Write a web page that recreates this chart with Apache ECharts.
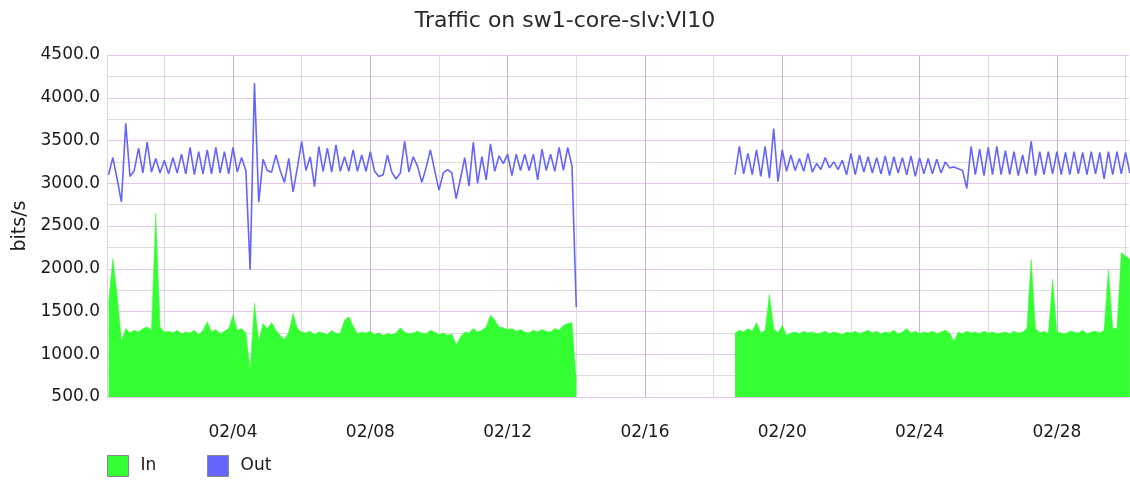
<!DOCTYPE html>
<html>
<head>
<meta charset="utf-8">
<script src="https://cdn.jsdelivr.net/npm/echarts@6/dist/echarts.min.js"></script>
<style>
html, body { margin: 0; padding: 0; background: #fff; }
#chart { width: 1130px; height: 480px; }
</style>
</head>
<body>
<div id="chart"></div>
<script>
// x unit = day of February (01/31 = 0, 03/01 = 29), samples every 3 hours
var startDay = 0.375;
var stepDay = 0.125;
var gapPoints = 36;

var majorDays = [4, 8, 12, 16, 20, 24, 28];
var minorDays = [2, 6, 10, 14, 18, 22, 26, 30];

// 01/31 09:00 -> 02/14 ~00:00
var inSeg1 = [
	1600, 2120, 1700, 1150, 1300, 1250, 1280, 1260, 1300, 1320,
	1280, 2650, 1320, 1260, 1270, 1250, 1280, 1240, 1260, 1250,
	1280, 1230, 1280, 1380, 1260, 1290, 1240, 1270, 1300, 1460,
	1280, 1300, 1250, 820, 1600, 1150, 1360, 1300, 1370, 1280,
	1220, 1170, 1260, 1480, 1300, 1260, 1250, 1270, 1230, 1260,
	1250, 1230, 1280, 1240, 1250, 1400, 1440, 1330, 1240, 1260,
	1250, 1270, 1230, 1250, 1220, 1240, 1230, 1250, 1310, 1260,
	1240, 1250, 1270, 1250, 1240, 1280, 1260, 1230, 1250, 1220,
	1240, 1110, 1200, 1260, 1250, 1300, 1260, 1280, 1320, 1460,
	1400, 1320, 1310, 1290, 1300, 1270, 1290, 1260, 1250, 1280,
	1260, 1290, 1270, 1260, 1300, 1280, 1340, 1360, 1370, 680
];
var outSeg1 = [
	3100, 3300, 3050, 2780, 3700, 3080, 3150, 3410, 3120, 3480,
	3130, 3290, 3120, 3270, 3110, 3300, 3120, 3340, 3110, 3420,
	3100, 3370, 3110, 3390, 3110, 3420, 3120, 3370, 3110, 3420,
	3130, 3300, 3150, 1990, 4170, 2780, 3280, 3150, 3130, 3330,
	3150, 3010, 3290, 2900, 3180, 3490, 3150, 3310, 2960, 3430,
	3140, 3410, 3130, 3450, 3140, 3310, 3140, 3390, 3140, 3330,
	3140, 3370, 3140, 3080, 3100, 3330, 3130, 3050, 3120, 3490,
	3130, 3310, 3200, 3010, 3180, 3390, 3150, 2920, 3120, 3160,
	3120, 2820, 3050, 3300, 2970, 3480, 3000, 3310, 3040, 3460,
	3140, 3320, 3230, 3340, 3090, 3340, 3150, 3340, 3150, 3340,
	3040, 3400, 3150, 3340, 3140, 3420, 3150, 3420, 3200, 1550
];

// 02/18 15:00 -> end
var inSeg2 = [
	1250, 1280, 1260, 1300, 1270, 1370, 1250, 1280, 1700, 1300,
	1250, 1340, 1220, 1250, 1260, 1240, 1270, 1250, 1260, 1240,
	1250, 1270, 1240, 1260, 1250, 1230, 1260, 1250, 1270, 1240,
	1260, 1280, 1250,
	1270, 1240, 1260, 1250, 1280, 1240, 1260, 1300, 1250, 1270,
	1240, 1260, 1250, 1270, 1240, 1260, 1280, 1250, 1150, 1260,
	1240, 1270, 1250, 1260, 1240, 1270, 1250, 1260, 1240, 1250,
	1260, 1240, 1270, 1250, 1260, 1300, 2110, 1300, 1250, 1270,
	1240, 1880, 1260, 1250, 1240, 1270, 1260, 1250, 1280, 1240,
	1260, 1270, 1250, 1280, 1990, 1300, 1300, 2190, 2150, 2110
];
var outSeg2 = [
	3100, 3430, 3110, 3350, 3100, 3390, 3080, 3430, 3060, 3640,
	3020, 3390, 3140, 3330, 3150, 3290, 3140, 3350, 3130, 3230,
	3160, 3300, 3180, 3250, 3160, 3270, 3100, 3350, 3100, 3330,
	3130, 3310, 3120,
	3300, 3110, 3320, 3090, 3310, 3120, 3300, 3100, 3320, 3080,
	3300, 3110, 3290, 3110, 3280, 3120, 3250, 3180, 3190, 3170,
	3150, 2940, 3430, 3100, 3400, 3090, 3420, 3100, 3430, 3100,
	3380, 3100, 3370, 3090, 3330, 3110, 3490, 3090, 3370, 3100,
	3370, 3110, 3370, 3100, 3360, 3100, 3370, 3110, 3360, 3100,
	3370, 3110, 3360, 3050, 3370, 3100, 3370, 3110, 3360, 3120
];

function build(seg1, seg2) {
	var pts = [];
	for (var i = 0; i < seg1.length; i++) {
		pts.push([startDay + i * stepDay, seg1[i]]);
	}
	pts.push([startDay + seg1.length * stepDay, null]);
	var off = seg1.length + gapPoints;
	for (var j = 0; j < seg2.length; j++) {
		pts.push([startDay + (off + j) * stepDay, seg2[j]]);
	}
	return pts;
}

var font = 'DejaVu Sans';
var chart = echarts.init(document.getElementById('chart'));

var legendText = { fontFamily: font, fontSize: 17, color: '#1a1a1a', padding: [0, 0, 0, 7] };

var option = {
	animation: false,
	title: {
		text: 'Traffic on sw1-core-slv:Vl10',
		left: 'center',
		top: 5,
		textStyle: { fontFamily: font, fontSize: 22, fontWeight: 'normal', color: '#2a2a2a' }
	},
	grid: { left: 107, right: 1, top: 55, bottom: 83 },
	legend: [{
		data: ['In'],
		left: 102,
		top: 450,
		icon: 'rect',
		itemWidth: 21,
		itemHeight: 21,
		selectedMode: false,
		itemStyle: { borderColor: '#888', borderWidth: 1 },
		textStyle: legendText
	}, {
		data: ['Out'],
		left: 202,
		top: 450,
		icon: 'rect',
		itemWidth: 21,
		itemHeight: 21,
		selectedMode: false,
		itemStyle: { borderColor: '#888', borderWidth: 1 },
		textStyle: legendText
	}],
	xAxis: [{
		type: 'value',
		min: 0.33,
		max: 30.1,
		axisLine: { show: false },
		axisTick: { show: false, customValues: minorDays },
		axisLabel: { show: false },
		splitLine: { show: true, lineStyle: { color: '#dcdcdc', width: 1 } }
	}, {
		type: 'value',
		min: 0.33,
		max: 30.1,
		position: 'bottom',
		axisLine: { show: false },
		axisTick: { show: false, customValues: majorDays },
		axisLabel: {
			customValues: majorDays,
			margin: 27,
			fontFamily: font,
			fontSize: 17,
			color: '#1a1a1a',
			formatter: function(v) {
				return '02/' + (v < 10 ? '0' : '') + v;
			}
		},
		splitLine: { show: true, lineStyle: { color: '#cfb0d6', width: 1 } }
	}],
	yAxis: {
		type: 'value',
		min: 500,
		max: 4500,
		interval: 500,
		name: 'bits/s',
		nameLocation: 'middle',
		nameRotate: 90,
		nameGap: 77,
		nameTextStyle: { fontFamily: font, fontSize: 19, color: '#1a1a1a' },
		axisLine: { show: true, lineStyle: { color: '#e8d0ea' } },
		axisTick: { show: false },
		axisLabel: {
			margin: 7,
			fontFamily: font,
			fontSize: 17,
			color: '#1a1a1a',
			formatter: function(v) { return v.toFixed(1); }
		},
		splitLine: { lineStyle: { color: '#e6c6ea', width: 1 } },
		minorTick: { show: false, splitNumber: 2 },
		minorSplitLine: { show: true, lineStyle: { color: '#dddddd', width: 1 } }
	},
	series: [{
		name: 'In',
		type: 'line',
		xAxisIndex: 1,
		data: build(inSeg1, inSeg2),
		showSymbol: false,
		connectNulls: false,
		itemStyle: { color: '#33ff33' },
		lineStyle: { width: 0.5, color: '#33ff33' },
		areaStyle: { color: '#33ff33', opacity: 1, origin: 'start' }
	}, {
		name: 'Out',
		type: 'line',
		xAxisIndex: 1,
		data: build(outSeg1, outSeg2),
		showSymbol: false,
		connectNulls: false,
		itemStyle: { color: '#6464ff' },
		lineStyle: { width: 1.6, color: '#6464ff' }
	}]
};

chart.setOption(option);
</script>
</body>
</html>
